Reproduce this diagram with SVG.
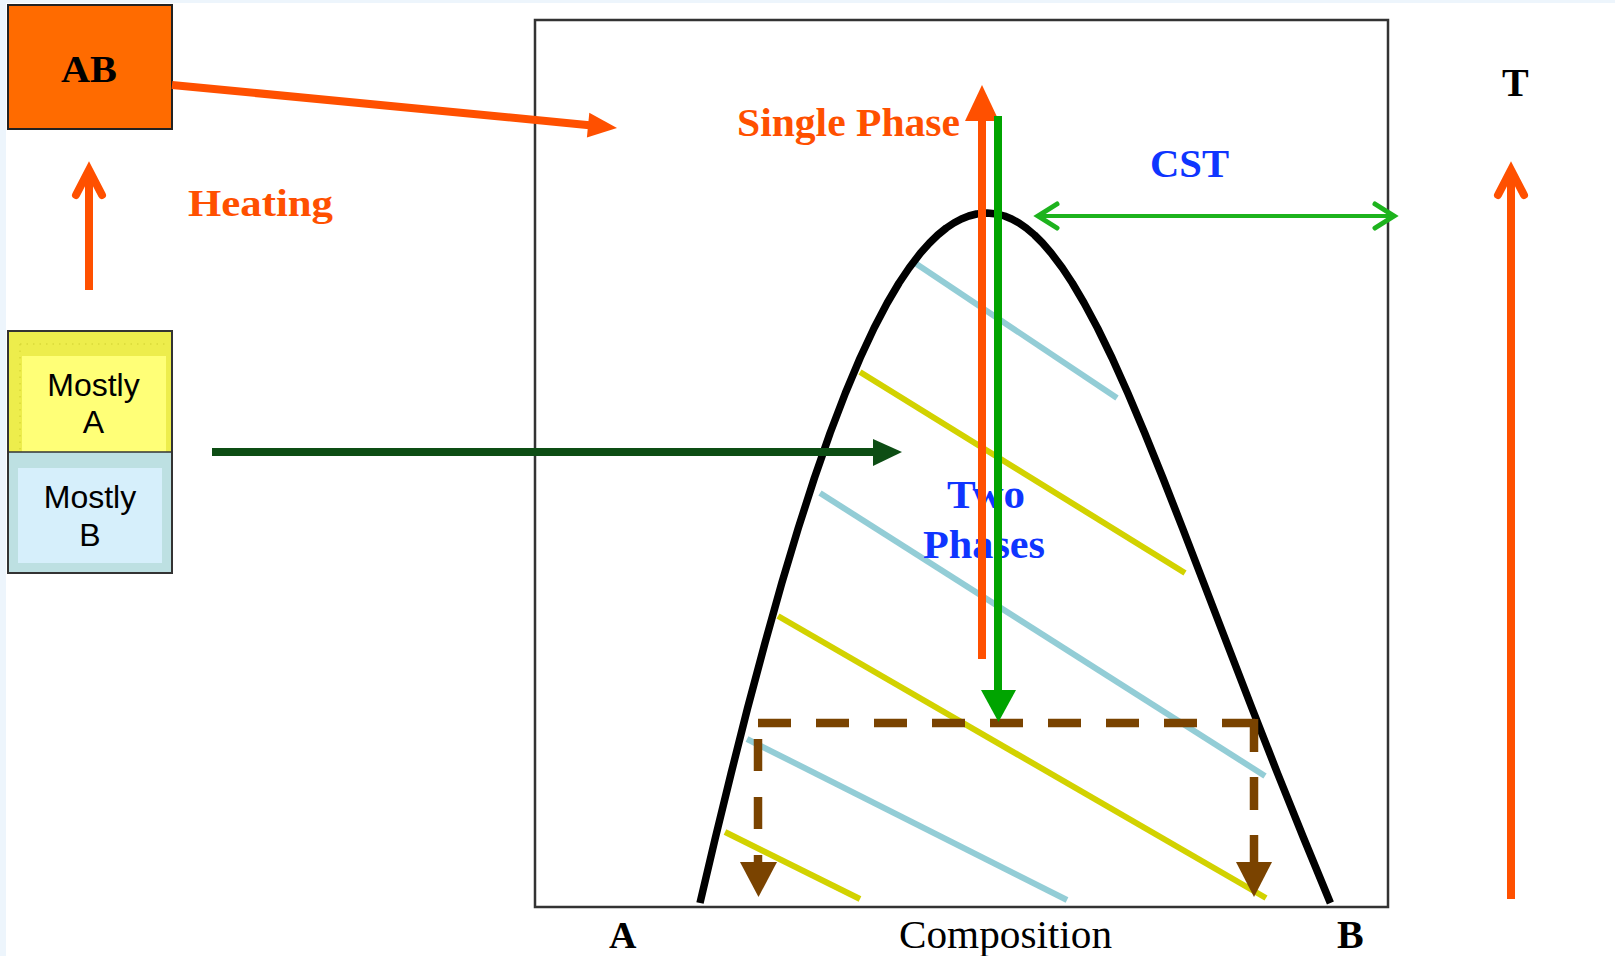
<svg xmlns="http://www.w3.org/2000/svg" width="1615" height="956" viewBox="0 0 1615 956">
<style>
.serif{font-family:"Liberation Serif","Times New Roman",serif;font-weight:bold}
.sans{font-family:"Liberation Sans",Arial,sans-serif;font-size:32px;fill:#000}
.or{fill:#ff5000}
.bl{fill:#0f35ff}
.tie-b{stroke:#93cdd6;stroke-width:6;fill:none}
.tie-y{stroke:#d2d200;stroke-width:6;fill:none}
.dash{stroke:#7a4300;stroke-width:8.5;fill:none;stroke-dasharray:33 25}
.chev{fill:none;stroke-linecap:round;stroke-linejoin:miter}
</style>
<rect x="0" y="0" width="1615" height="956" fill="#ffffff"/>
<rect x="0" y="0" width="1615" height="3" fill="#edf5fc"/>
<rect x="0" y="0" width="6" height="956" fill="#edf5fc"/>

<g id="frame">
<rect x="535" y="20" width="853" height="887" fill="none" stroke="#333" stroke-width="2.5"/>
</g>

<g id="tie-lines">
<line class="tie-b" x1="915" y1="263" x2="1117" y2="398"/>
<line class="tie-y" x1="860" y1="372" x2="1185" y2="573"/>
<line class="tie-b" x1="820" y1="493" x2="1265" y2="776"/>
<line class="tie-y" x1="778" y1="616" x2="1266" y2="898"/>
<line class="tie-b" x1="747" y1="739" x2="1067" y2="900"/>
<line class="tie-y" x1="725" y1="832" x2="860" y2="899"/>
</g>

<g id="curve">
<path d="M700,903 L715.3,838 L731.2,773 L747.6,708 L765,643 L781.8,583 L798.3,528 L814.4,478 L830.1,433 L845.4,393 L860.1,358 L874.1,328 L887.2,303 L899,283 L909.1,268 L920.5,253 L929.5,243 L937.7,235 L946.3,228 L953.8,223 L961.3,219 L968.8,216 L976.5,214 L987,213 L997.1,214 L1004.5,216 L1011.7,219 L1019,223 L1026.2,228 L1034.5,235 L1042.5,243 L1051.1,253 L1062.4,268 L1072.3,283 L1084.1,303 L1097.5,328 L1112.1,358 L1127.8,393 L1144.7,433 L1162.9,478 L1182.5,528 L1203.7,583 L1226.8,643 L1251.9,708 L1277.4,773 L1303.6,838 L1330.4,903" fill="none" stroke="#000" stroke-width="7.5" stroke-linejoin="round" stroke-linecap="butt"/>
</g>

<g id="node-AB">
<rect x="8" y="5" width="164" height="124" fill="#ff6b00" stroke="#222" stroke-width="2"/>
<text class="serif" x="61" y="82" font-size="38" fill="#000" textLength="56" lengthAdjust="spacingAndGlyphs">AB</text>
</g>

<g id="node-mostly">
<rect x="8" y="331" width="164" height="121" fill="#eded4c"/>
<line x1="20" y1="344" x2="166" y2="344" stroke="#d9d93a" stroke-width="1.5" stroke-dasharray="1.5 5"/>
<line x1="20" y1="344" x2="20" y2="452" stroke="#d9d93a" stroke-width="1.5" stroke-dasharray="1.5 5"/>
<rect x="22" y="356" width="144" height="96" fill="#ffff77"/>
<rect x="8" y="452" width="164" height="121" fill="#bde0e2"/>
<rect x="18" y="468" width="144" height="95" fill="#d6effb"/>
<rect x="8" y="331" width="164" height="242" fill="none" stroke="#333" stroke-width="2"/>
<line x1="8" y1="452" x2="172" y2="452" stroke="#333" stroke-width="1.5"/>
<text class="sans" x="93.5" y="396" text-anchor="middle">Mostly</text>
<text class="sans" x="93.5" y="433" text-anchor="middle">A</text>
<text class="sans" x="90" y="508" text-anchor="middle">Mostly</text>
<text class="sans" x="90" y="546" text-anchor="middle">B</text>
</g>

<g id="labels">
<text class="serif or" x="188" y="216" font-size="37" textLength="145" lengthAdjust="spacingAndGlyphs">Heating</text>
<text class="serif or" x="737" y="136" font-size="41" textLength="223" lengthAdjust="spacingAndGlyphs">Single Phase</text>
<text class="serif bl" x="1150" y="177" font-size="40" textLength="79" lengthAdjust="spacingAndGlyphs">CST</text>
<text class="serif" x="1502" y="96" font-size="40" fill="#000">T</text>
<text class="serif bl" x="947" y="508" font-size="40" textLength="78" lengthAdjust="spacingAndGlyphs">Two</text>
<text class="serif bl" x="923" y="558" font-size="40" textLength="122" lengthAdjust="spacingAndGlyphs">Phases</text>
<text class="serif" x="609" y="948" font-size="38" fill="#000">A</text>
<text x="899" y="948" font-size="40" fill="#000" font-family="Liberation Serif, Times New Roman, serif" textLength="213" lengthAdjust="spacingAndGlyphs">Composition</text>
<text class="serif" x="1337" y="948" font-size="40" fill="#000">B</text>
</g>

<g id="connectors">
<!-- AB to single phase -->
<line x1="172" y1="85" x2="592" y2="125.4" stroke="#ff5000" stroke-width="8"/>
<polygon points="617,128 589.3,112.8 586.9,137.6" fill="#ff5000"/>
<!-- heating arrow -->
<line x1="89" y1="290" x2="89" y2="172" stroke="#ff5000" stroke-width="8"/>
<polyline class="chev" points="76,195 89,170 102,195" stroke="#ff5000" stroke-width="8"/>
<!-- T arrow -->
<line x1="1511" y1="899" x2="1511" y2="172" stroke="#ff5000" stroke-width="8"/>
<polyline class="chev" points="1498,195 1511,170 1524,195" stroke="#ff5000" stroke-width="8"/>
<!-- dark green arrow -->
<line x1="212" y1="452" x2="876" y2="452" stroke="#0d4d14" stroke-width="8"/>
<polygon points="873,439 902,452 873,466" fill="#0d4d14"/>
<!-- CST double arrow -->
<line x1="1037" y1="216" x2="1395" y2="216" stroke="#1db31d" stroke-width="4"/>
<polyline class="chev" points="1057,204 1038,216 1057,228" stroke="#1db31d" stroke-width="5"/>
<polyline class="chev" points="1375,204 1394,216 1375,228" stroke="#1db31d" stroke-width="5"/>
<!-- dashed brown -->
<line class="dash" x1="758" y1="723" x2="1258" y2="723"/>
<line class="dash" x1="1254" y1="719" x2="1254" y2="864"/>
<line class="dash" x1="758" y1="739" x2="758" y2="864" style="stroke-dasharray:32 26"/>
<polygon points="740,862 777,862 758.5,897" fill="#7a4300"/>
<polygon points="1236,862 1272,862 1254,897" fill="#7a4300"/>
<!-- orange vertical -->
<line x1="982" y1="659" x2="982" y2="118" stroke="#ff5000" stroke-width="8"/>
<polygon points="965,121 999,121 982,85" fill="#ff5000"/>
<!-- green vertical -->
<line x1="998" y1="116" x2="998" y2="692" stroke="#00a400" stroke-width="8"/>
<polygon points="981,690 1016,690 998.5,722" fill="#00a400"/>
</g>
</svg>
